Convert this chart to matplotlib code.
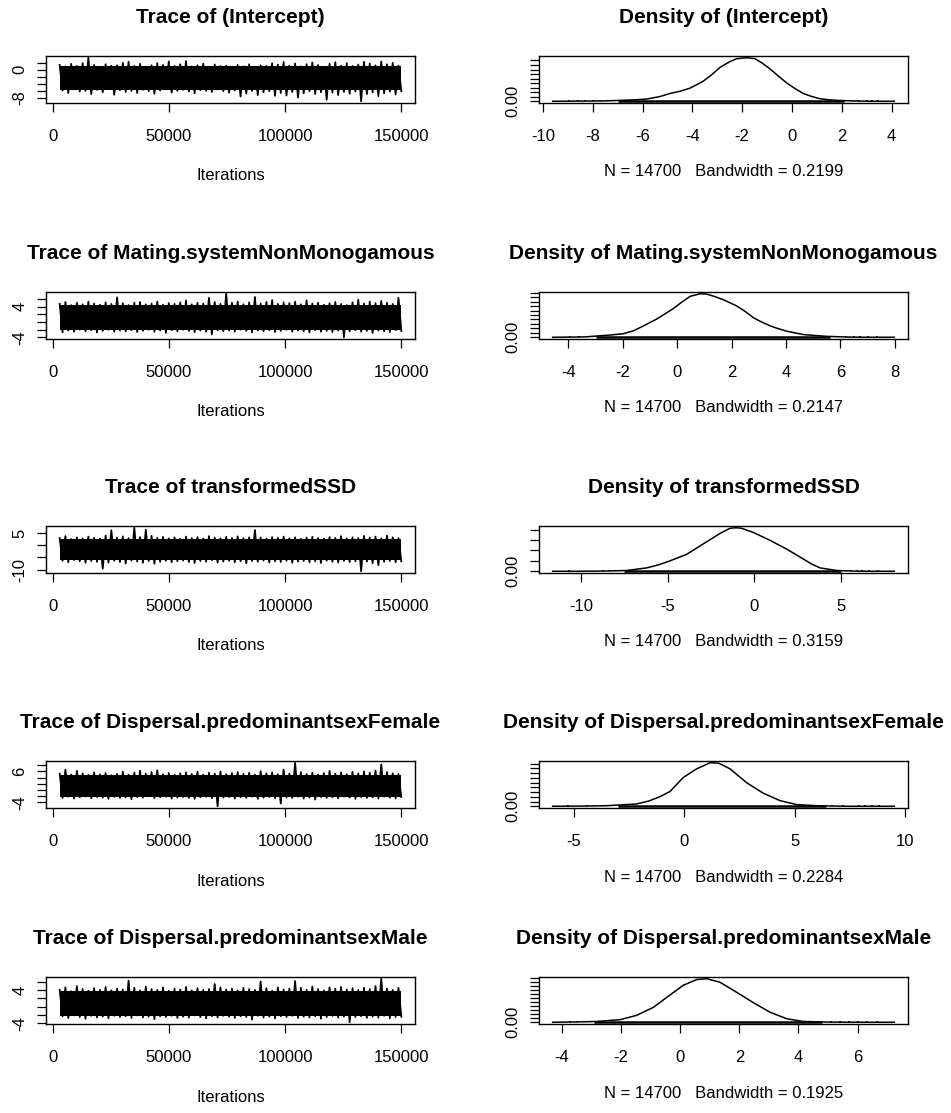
import numpy as np
import matplotlib
matplotlib.use("Agg")
import matplotlib.pyplot as plt
from matplotlib.ticker import MultipleLocator, FuncFormatter

plt.rcParams['font.family'] = ['Liberation Sans', 'DejaVu Sans']

# MCMC output: 14700 kept samples, iterations 3001..150000
params = ["(Intercept)", "Mating.systemNonMonogamous", "transformedSSD",
          "Dispersal.predominantsexFemale", "Dispersal.predominantsexMale"]
bandwidths = ["0.2199", "0.2147", "0.3159", "0.2284", "0.1925"]
n_samples = 14700
iter_start, iter_end = 3001, 150000
iter_ticks = [0, 50000, 100000, 150000]

# trace envelopes: upper / lower extremes in 60 consecutive blocks of iterations
hi1 = [1.4, 1.0, 1.7, 1.1, 1.9, 3.45, 1.4, 0.9, 1.6, 1.2, 1.3, 2.0, 2.3, 1.1, 1.7, 0.9, 1.3, 1.9, 1.4, 2.4,
       1.1, 1.6, 2.5, 1.0, 1.3, 1.8, 0.9, 1.5, 1.1, 1.2, 0.8, 1.4, 1.0, 1.6, 0.9, 1.3, 1.1, 1.9, 1.5, 2.2,
       1.2, 1.8, 1.0, 1.6, 2.1, 1.4, 0.9, 1.7, 2.2, 1.2, 1.9, 1.1, 1.5, 2.3, 1.8, 1.3, 2.4, 1.6, 2.0, 1.2]
lo1 = [-5.9, -6.6, -5.6, -6.2, -6.0, -6.9, -5.7, -6.4, -5.5, -7.1, -5.8, -6.3, -6.0, -6.6, -5.7, -6.1, -6.8, -5.9, -5.6, -6.5,
       -6.0, -5.7, -6.2, -6.7, -5.8, -6.0, -6.3, -5.6, -6.1, -6.5, -5.9, -7.6, -6.8, -6.0, -7.2, -6.4, -6.1, -7.4, -6.6, -7.3,
       -6.3, -7.9, -6.7, -6.1, -6.9, -6.4, -8.5, -6.5, -7.2, -6.3, -6.8, -6.2, -8.95, -6.9, -6.4, -7.5, -6.7, -6.2, -7.0, -6.1]
hi2 = [4.7, 5.2, 4.4, 5.0, 4.6, 5.3, 4.8, 4.5, 5.1, 4.7, 6.4, 4.9, 4.4, 5.0, 5.2, 4.6, 4.8, 5.3, 4.5, 4.9,
       4.7, 5.1, 5.6, 4.6, 5.0, 4.8, 6.3, 5.2, 4.7, 7.34, 5.0, 5.3, 4.6, 5.1, 6.5, 4.8, 5.2, 5.7, 4.7, 5.1,
       4.9, 5.3, 4.6, 5.6, 4.8, 5.0, 4.5, 4.9, 5.2, 4.7, 4.4, 5.1, 5.8, 4.8, 5.3, 4.9, 5.5, 5.0, 4.7, 6.3]
lo2 = [-2.7, -2.2, -2.5, -2.0, -2.4, -2.1, -2.7, -2.3, -2.0, -2.5, -2.2, -2.4, -2.1, -2.6, -2.3, -2.0, -2.5, -2.2, -2.8, -2.1,
       -2.4, -2.0, -2.3, -2.6, -2.2, -2.5, -3.2, -2.1, -2.4, -2.2, -2.5, -2.0, -2.3, -2.7, -2.2, -2.4, -2.1, -2.6, -2.3, -2.0,
       -2.5, -2.2, -2.4, -2.7, -2.1, -2.5, -2.3, -2.6, -2.2, -3.94, -2.4, -2.1, -2.5, -2.3, -2.8, -2.2, -2.4, -2.6, -2.1, -2.3]
hi3 = [2.9, 3.7, 2.5, 3.2, 2.8, 3.5, 3.0, 2.7, 3.9, 6.1, 3.1, 3.6, 2.9, 7.13, 3.3, 6.3, 3.8, 3.0, 3.4, 2.8,
       3.2, 2.6, 3.5, 2.9, 3.3, 2.7, 3.7, 3.1, 2.8, 3.4, 3.0, 3.6, 2.9, 3.2, 6.2, 3.1, 2.7, 3.3, 3.0, 3.5,
       2.8, 3.2, 2.6, 3.1, 3.4, 2.9, 2.7, 3.3, 3.0, 3.7, 2.8, 3.2, 2.9, 3.8, 3.1, 3.5, 2.8, 3.9, 3.2, 2.9]
lo3 = [-6.4, -7.0, -6.1, -6.6, -7.2, -6.5, -6.8, -9.6, -7.1, -6.4, -6.9, -7.5, -6.3, -6.7, -7.2, -6.5, -7.6, -6.8, -6.4, -7.0,
       -6.6, -6.3, -6.9, -7.3, -6.5, -6.8, -6.2, -7.1, -6.7, -6.4, -7.0, -6.6, -7.4, -6.5, -6.8, -6.3, -7.1, -6.6, -6.9, -6.4,
       -7.2, -6.7, -6.5, -7.0, -6.6, -7.3, -6.4, -6.8, -7.1, -6.5, -6.9, -6.6, -10.68, -6.7, -7.4, -8.2, -6.8, -6.5, -7.0, -6.6]
hi4 = [5.3, 6.6, 5.0, 6.2, 5.4, 4.9, 5.7, 5.1, 5.5, 4.8, 5.2, 5.9, 5.0, 5.6, 6.3, 5.3, 5.8, 6.4, 5.1, 5.5,
       4.9, 5.4, 5.7, 5.2, 5.9, 5.0, 5.6, 5.3, 6.0, 5.1, 5.5, 5.8, 5.2, 5.6, 5.0, 6.1, 5.4, 5.7, 5.1, 6.6,
       5.3, 8.84, 5.8, 5.2, 5.6, 5.0, 5.5, 6.2, 5.3, 5.7, 5.1, 5.9, 5.4, 6.0, 5.6, 6.3, 8.3, 5.8, 5.4, 5.2]
lo4 = [-2.6, -2.2, -2.8, -2.4, -2.1, -2.7, -2.3, -2.5, -2.9, -2.2, -2.6, -2.4, -3.0, -2.3, -2.5, -2.1, -2.7, -2.4, -2.2, -2.8,
       -2.5, -2.3, -2.6, -2.9, -2.4, -2.2, -2.7, -5.29, -2.5, -2.3, -2.8, -2.4, -2.6, -2.2, -2.9, -2.5, -2.3, -2.7, -4.4, -2.4,
       -2.6, -2.2, -2.8, -2.5, -3.1, -2.3, -2.6, -2.4, -2.7, -2.2, -2.5, -2.9, -2.3, -2.6, -2.4, -2.8, -2.2, -2.5, -2.7, -2.3]
hi5 = [4.0, 4.6, 3.7, 4.9, 4.2, 3.8, 4.4, 4.0, 4.7, 3.9, 4.3, 4.1, 6.2, 4.5, 3.9, 4.8, 4.2, 4.0, 4.6, 3.8,
       4.3, 4.1, 4.7, 3.9, 4.4, 4.0, 4.2, 5.4, 4.6, 4.1, 4.3, 3.9, 4.5, 4.2, 4.0, 6.0, 4.4, 3.8, 4.6, 4.1,
       4.3, 6.1, 4.5, 4.0, 4.8, 4.2, 3.9, 4.6, 4.3, 4.7, 4.1, 4.4, 4.0, 4.5, 4.2, 4.9, 6.66, 4.3, 4.0, 4.5]
lo5 = [-2.3, -2.7, -2.1, -2.5, -2.9, -2.2, -2.6, -2.4, -2.8, -2.2, -2.5, -2.3, -2.7, -2.1, -2.6, -2.4, -3.0, -2.3, -2.5, -2.2,
       -2.7, -2.4, -2.6, -2.1, -2.5, -2.8, -2.3, -2.6, -2.2, -2.4, -2.7, -2.3, -2.5, -3.1, -2.2, -2.6, -2.4, -2.8, -2.3, -2.5,
       -2.2, -2.7, -2.4, -2.6, -2.3, -2.9, -2.5, -2.2, -2.6, -2.4, -3.73, -2.5, -2.3, -2.7, -2.4, -2.6, -2.2, -2.8, -2.5, -2.4]
trace_hi = [hi1, hi2, hi3, hi4, hi5]
trace_lo = [lo1, lo2, lo3, lo4, lo5]
# solid middle of each chain
trace_core = [(-5.6, 1.0), (-2.1, 4.5), (-6.2, 2.6), (-2.2, 5.0), (-2.2, 3.8)]
trace_ystep = [2, 2, 5, 2, 2]
trace_ylabels = [(0, -8), (4, -4), (5, -10), (6, -4), (4, -4)]

# kernel density estimates
dens_x1 = [-9.61, -8.5, -7.5, -6.9, -6.3, -5.84, -5.3, -4.9, -4.5, -4.1, -3.57, -3.2, -2.89, -2.5, -2.22,
           -1.82, -1.49, -1.2, -0.88, -0.55, -0.21, 0.12, 0.45, 0.8, 1.12, 1.5, 1.8, 2.4, 3.2, 4.11]
dens_y1 = [0.0, 0.001, 0.002, 0.005, 0.008, 0.012, 0.026, 0.043, 0.055, 0.072, 0.110, 0.149, 0.187, 0.218, 0.235,
           0.240, 0.235, 0.211, 0.178, 0.139, 0.101, 0.070, 0.043, 0.026, 0.014, 0.008, 0.005, 0.002, 0.0, 0.0]
dens_x2 = [-4.58, -3.9, -3.4, -2.96, -2.5, -1.98, -1.6, -1.24, -0.75, -0.45, -0.14, 0.15, 0.47, 0.84, 1.09,
           1.4, 1.70, 2.19, 2.5, 2.80, 3.1, 3.42, 3.7, 4.03, 4.64, 5.5, 6.3, 7.0, 7.98]
dens_y2 = [0.0, 0.001, 0.002, 0.007, 0.012, 0.020, 0.037, 0.064, 0.103, 0.132, 0.162, 0.196, 0.230, 0.245, 0.243,
           0.228, 0.211, 0.176, 0.145, 0.110, 0.086, 0.064, 0.049, 0.034, 0.015, 0.005, 0.001, 0.0, 0.0]
dens_x3 = [-11.63, -10.0, -8.5, -7.36, -6.2, -5.5, -4.86, -3.9, -2.94, -1.98, -1.4, -1.05, -0.73, -0.06, 0.9,
           1.87, 2.83, 3.3, 3.79, 4.75, 5.6, 6.5, 8.08]
dens_y3 = [0.0, 0.0, 0.001, 0.003, 0.013, 0.025, 0.040, 0.065, 0.105, 0.145, 0.165, 0.167, 0.165, 0.149, 0.119,
           0.085, 0.047, 0.028, 0.013, 0.003, 0.001, 0.0, 0.0]
dens_x4 = [-5.97, -4.5, -3.5, -2.92, -2.17, -1.6, -1.10, -0.65, -0.35, -0.05, 0.56, 1.17, 1.55, 2.07, 2.45,
           2.83, 3.58, 4.33, 5.09, 6.15, 7.5, 9.52]
dens_y4 = [0.0, 0.001, 0.003, 0.007, 0.012, 0.028, 0.051, 0.078, 0.115, 0.152, 0.198, 0.230, 0.228, 0.198, 0.161,
           0.124, 0.069, 0.030, 0.009, 0.002, 0.0, 0.0]
dens_x5 = [-4.31, -3.5, -2.82, -2.03, -1.47, -0.91, -0.34, 0.11, 0.56, 0.9, 1.35, 1.91, 2.47, 3.04, 3.6,
           4.16, 5.0, 6.0, 7.24]
dens_y5 = [0.0, 0.002, 0.005, 0.016, 0.043, 0.092, 0.170, 0.230, 0.265, 0.270, 0.248, 0.186, 0.122, 0.062, 0.022,
           0.005, 0.001, 0.0, 0.0]
dens_x = [dens_x1, dens_x2, dens_x3, dens_x4, dens_x5]
dens_y = [dens_y1, dens_y2, dens_y3, dens_y4, dens_y5]
dens_xticks = [[-10, -8, -6, -4, -2, 0, 2, 4], [-4, -2, 0, 2, 4, 6, 8], [-10, -5, 0, 5],
               [-5, 0, 5, 10], [-4, -2, 0, 2, 4, 6]]
dens_ystep = [0.025, 0.025, 0.04, 0.025, 0.025]

# rug of samples: dense stretch plus the isolated tail values
rug_dense = [(-7.0, 2.1), (-3.0, 5.6), (-7.5, 5.0), (-3.0, 6.4), (-2.9, 4.8)]
rug_tails = [[-8.95, -8.6, -8.3, -8.0, -7.7, -7.4, 2.4, 2.7, 3.0, 3.2, 3.45],
             [-3.94, -3.6, -3.3, 5.9, 6.2, 6.5, 6.7, 7.0, 7.34],
             [-10.68, -8.7, -8.4, -8.1, -7.8, 5.3, 5.6, 5.9, 6.2, 6.6, 7.13],
             [-5.29, -4.4, -4.1, -3.8, -3.5, -3.2, 6.7, 7.2, 7.9, 8.2, 8.5, 8.84],
             [-3.73, -3.5, -3.2, 5.1, 5.4, 5.7, 6.0, 6.3, 6.66]]

W, H = 951, 1113
fig = plt.figure(figsize=(W / 100, H / 100), dpi=100)

box_h = 47
row_tops = [56, 292, 526, 761, 977]
col_left = [46, 539]
box_w = 369


def style_axes(ax):
    for s in ax.spines.values():
        s.set_linewidth(1.0)
    ax.tick_params(direction='out', length=6.5, width=0.9, labelsize=12, colors='black')
    ax.tick_params(axis='x', pad=12)
    ax.tick_params(axis='y', pad=7, labelrotation=90)
    ax.margins(x=0.04, y=0.04)


def only_labels(shown, fmt):
    return FuncFormatter(lambda v, pos: fmt(v) if any(abs(v - s) < 1e-9 for s in shown) else "")


for i, name in enumerate(params):
    top = row_tops[i]
    bottom_frac = 1 - (top + box_h) / H

    # trace plot
    ax = fig.add_axes([col_left[0] / W, bottom_frac, box_w / W, box_h / H])
    hi, lo = trace_hi[i], trace_lo[i]
    xs = np.linspace(iter_start, iter_end, 2 * len(hi))
    ys = np.column_stack([hi, lo]).ravel()
    ax.fill_between([iter_start, iter_end], trace_core[i][0], trace_core[i][1], color='black', lw=0)
    ax.plot(xs, ys, color='black', lw=1.3)
    style_axes(ax)
    ax.set_xticks(iter_ticks)
    ax.set_xticklabels([str(t) for t in iter_ticks])
    ax.yaxis.set_major_locator(MultipleLocator(trace_ystep[i]))
    ax.yaxis.set_major_formatter(only_labels(trace_ylabels[i], lambda v: f"{v:g}"))
    for lab in ax.get_yticklabels():
        lab.set_verticalalignment('center')

    cx = (col_left[0] + box_w / 2) / W
    fig.text(cx, 1 - (top - 38.5) / H, f"Trace of {name}", ha='center', va='center',
             fontsize=15, fontweight='bold')
    fig.text(cx, 1 - (top + box_h + 73) / H, "Iterations", ha='center', va='center', fontsize=12)

    # density plot
    ax = fig.add_axes([col_left[1] / W, bottom_frac, box_w / W, box_h / H])
    peak = max(dens_y[i])
    ax.plot(dens_x[i], dens_y[i], color='black', lw=1.1)
    ax.plot(rug_dense[i], [0, 0], color='black', lw=1.8, solid_capstyle='butt')
    ax.vlines(rug_tails[i], 0, 0.03 * peak, color='black', lw=1.2)
    style_axes(ax)
    ax.set_xticks(dens_xticks[i])
    ax.set_xticklabels([str(t) for t in dens_xticks[i]])
    ax.yaxis.set_major_locator(MultipleLocator(dens_ystep[i]))
    ax.yaxis.set_major_formatter(only_labels([0.0], lambda v: f"{v:.2f}"))
    for lab in ax.get_yticklabels():
        lab.set_verticalalignment('center')

    cx = (col_left[1] + box_w / 2) / W
    fig.text(cx, 1 - (top - 38.5) / H, f"Density of {name}", ha='center', va='center',
             fontsize=15, fontweight='bold')
    fig.text(cx, 1 - (top + box_h + 69) / H,
             f"N = {n_samples}   Bandwidth = {bandwidths[i]}", ha='center', va='center', fontsize=12)

fig.savefig("out.png", dpi=100)
